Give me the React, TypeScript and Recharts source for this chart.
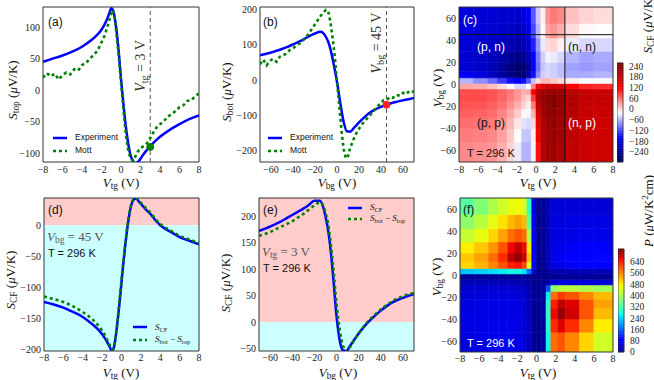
import React from "react";
import {
  ComposedChart,
  Line,
  XAxis,
  YAxis,
  ReferenceArea,
  ReferenceLine,
  ReferenceDot,
} from "recharts";

// (a) S_top against the top gate
const topVtg = [-8, -7, -6, -5, -4, -3, -2.5, -2, -1.5, -1.2, -1, -0.8, -0.5, -0.2, 0, 0.3, 0.6, 0.9, 1.2, 1.5, 1.8, 2.2, 2.6, 3, 3.5, 4, 5, 6, 7, 8];
const topExp = [45, 50, 55, 61, 69, 80, 87, 96, 110, 122, 130, 126, 100, 55, 18, -30, -70, -98, -112, -116, -113, -104, -96, -89, -81, -74, -63, -54, -46, -40];
const mottTopVtg = [-8, -7.6, -7.2, -6.8, -6.4, -6, -5.6, -5.2, -4.8, -4.4, -4, -3.6, -3.2, -2.8, -2.4, -2, -1.7, -1.4, -1.1, -0.9, -0.7, -0.5, -0.3, -0.1, 0.1, 0.3, 0.5, 0.7, 0.9, 1.1, 1.3, 1.6, 2, 2.4, 2.8, 3.2, 3.6, 4, 4.4, 4.8, 5.2, 5.6, 6, 6.4, 6.8, 7.2, 7.6, 8];
const mottTop = [20, 27, 22, 26, 17, 24, 28, 25, 33, 31, 40, 43, 50, 56, 63, 76, 86, 100, 116, 127, 120, 95, 65, 30, -5, -40, -70, -92, -104, -110, -112, -100, -92, -88, -82, -70, -60, -54, -49, -42, -38, -33, -27, -24, -17, -16, -10, -5];

// (b) S_bot against the back gate
const botVbg = [-70, -65, -60, -55, -50, -45, -40, -35, -30, -25, -20, -15, -10, -7, -5, -3, 0, 3, 6, 9, 12, 15, 20, 25, 30, 35, 40, 45, 50, 55, 60, 65, 70];
const botExp = [70, 74, 78, 83, 88, 94, 101, 108, 116, 125, 132, 137, 122, 100, 75, 45, -5, -65, -118, -145, -146, -137, -120, -105, -92, -83, -76, -70, -65, -61, -57, -54, -51];
const mottBotVbg = [-70, -67, -64, -61, -58, -55, -52, -49, -46, -43, -40, -37, -34, -31, -28, -25, -22, -19, -16, -13, -10, -8, -6, -4, -2, 0, 2, 4, 6, 8, 10, 12, 15, 18, 21, 24, 27, 30, 33, 36, 39, 42, 45, 48, 51, 54, 57, 60, 63, 66, 70];
const mottBot = [45, 58, 42, 55, 60, 52, 66, 70, 75, 85, 90, 98, 104, 112, 122, 135, 148, 163, 176, 190, 199, 195, 165, 120, 65, -5, -70, -140, -195, -222, -215, -192, -168, -148, -133, -120, -110, -100, -88, -78, -68, -58, -57, -48, -50, -42, -44, -36, -40, -30, -34];

// (d) S_CF at Vbg = 45 V
const cfVtg = [-8, -7, -6, -5, -4, -3, -2.5, -2, -1.5, -1.2, -1, -0.8, -0.5, -0.2, 0, 0.3, 0.6, 0.9, 1.2, 1.5, 1.8, 2.2, 2.6, 3, 3.5, 4, 5, 6, 7, 8];
const cfTgMeas = [-124, -128, -133, -140, -148, -160, -167, -176, -188, -197, -203, -198, -168, -125, -92, -45, -5, 25, 40, 43, 38, 31, 24, 18, 8, 0, -10, -19, -25, -31];
const cfTgDiff = [-115, -119, -124, -131, -140, -152, -160, -170, -184, -194, -201, -197, -166, -120, -88, -42, -2, 27, 41, 44, 40, 33, 26, 20, 10, 2, -8, -17, -23, -29];

// (e) S_CF at Vtg = 3 V
const cfVbg = [-70, -65, -60, -55, -50, -45, -40, -35, -30, -25, -20, -15, -10, -7, -5, -3, 0, 3, 6, 9, 12, 15, 20, 25, 30, 35, 40, 45, 50, 55, 60, 65, 70];
const cfBgMeas = [172, 176, 180, 185, 190, 196, 202, 208, 214, 221, 229, 229, 200, 165, 130, 85, 12, -35, -53, -54, -45, -36, -21, -8, 3, 13, 22, 30, 37, 42, 46, 50, 53];
const cfBgDiff = [163, 166, 170, 175, 180, 185, 190, 197, 204, 212, 220, 226, 207, 178, 145, 105, 35, -15, -45, -55, -47, -37, -21, -7, 5, 15, 24, 32, 39, 45, 49, 53, 55];

// maps (c) and (f): cell edges, rows listed from Vbg = -70 upwards
const tgEdges = [-8, -6.5, -5, -4, -3, -2.25, -1.5, -1, -0.5, 0, 0.5, 1, 1.5, 2.25, 3, 4.5, 6, 8];
const bgEdges = [-70, -52, -40, -30, -22, -15, -9, -4, 1, 6, 12, 20, 30, 42, 55, 70];
const cfMap = [
  [45, 42, 38, 25, 5, -30, -60, -62, -25, 110, 200, 220, 222, 210, 185, 175, 172],
  [52, 50, 45, 32, 12, -18, -50, -52, -10, 130, 205, 225, 228, 215, 188, 176, 173],
  [60, 58, 52, 40, 20, -5, -35, -40, 5, 150, 210, 230, 235, 220, 192, 178, 175],
  [68, 66, 60, 48, 30, 10, -15, -25, 25, 170, 220, 238, 242, 228, 198, 180, 177],
  [75, 74, 68, 58, 42, 25, 5, -10, 55, 190, 228, 245, 250, 235, 203, 183, 180],
  [80, 80, 75, 65, 52, 38, 15, 5, 90, 205, 232, 246, 250, 236, 205, 185, 180],
  [78, 78, 74, 65, 55, 40, 25, 30, 125, 200, 222, 232, 236, 222, 196, 180, 175],
  [30, 25, 15, 0, -20, -40, -40, -20, 50, 120, 160, 175, 175, 160, 120, 100, 95],
  [-60, -80, -100, -125, -150, -165, -150, -110, -50, 0, 20, 20, 10, 0, -10, -20, -20],
  [-165, -185, -205, -230, -255, -270, -260, -225, -150, -80, -45, -40, -45, -55, -65, -65, -60],
  [-190, -200, -215, -235, -255, -270, -265, -235, -170, -95, -50, -40, -45, -55, -70, -75, -70],
  [-195, -200, -210, -225, -240, -250, -240, -215, -160, -90, -45, -25, -30, -40, -60, -70, -65],
  [-190, -195, -200, -210, -220, -225, -215, -190, -140, -75, -30, 0, 5, -10, -30, -40, -40],
  [-185, -190, -195, -200, -205, -210, -200, -175, -120, -60, -15, 30, 40, 25, 0, -15, -20],
  [-185, -190, -190, -195, -195, -195, -185, -165, -110, -50, -10, 40, 55, 45, 15, 5, 0],
];
const pfMap = [
  [62, 66, 70, 70, 68, 64, 56, 44, 14, 12, 20, 270, 580, 600, 560, 500, 440],
  [62, 65, 68, 68, 66, 62, 55, 42, 14, 12, 20, 290, 630, 670, 630, 560, 480],
  [62, 64, 66, 66, 64, 62, 54, 40, 14, 12, 20, 300, 660, 715, 680, 600, 520],
  [60, 62, 64, 64, 62, 60, 52, 38, 14, 12, 20, 290, 640, 690, 670, 600, 540],
  [56, 58, 60, 60, 58, 56, 48, 34, 14, 12, 20, 260, 580, 620, 600, 560, 520],
  [50, 52, 54, 54, 52, 50, 44, 30, 14, 12, 16, 150, 380, 420, 420, 410, 400],
  [35, 35, 35, 34, 32, 30, 28, 20, 12, 10, 12, 25, 55, 62, 62, 58, 55],
  [15, 15, 15, 15, 14, 13, 12, 11, 10, 8, 8, 9, 10, 10, 12, 14, 14],
  [230, 240, 250, 260, 270, 270, 250, 170, 50, 10, 10, 22, 30, 32, 35, 38, 38],
  [500, 525, 560, 600, 640, 650, 610, 450, 90, 12, 12, 40, 62, 66, 75, 84, 86],
  [510, 540, 580, 630, 690, 715, 680, 510, 95, 12, 12, 42, 66, 72, 82, 92, 95],
  [480, 510, 550, 600, 660, 690, 660, 480, 90, 12, 12, 40, 64, 68, 75, 82, 85],
  [430, 460, 500, 540, 580, 600, 580, 410, 80, 12, 12, 38, 60, 64, 66, 68, 68],
  [380, 420, 460, 490, 520, 540, 520, 340, 70, 12, 12, 35, 58, 60, 62, 62, 62],
  [330, 370, 410, 440, 460, 470, 450, 300, 60, 12, 15, 35, 55, 55, 55, 55, 55],
];

const markTop = { x: 3, y: -90 };
const markBot = { x: 45, y: -70 };
const cutVtg = 3;
const cutVbg = 45;

const tgTicks = [-8, -6, -4, -2, 0, 2, 4, 6, 8];
const bgTicks = [-60, -40, -20, 0, 20, 40, 60];
const topTicks = [-100, -50, 0, 50, 100];
const botTicks = [-200, -100, 0, 100, 200];
const cfTgTicks = [-200, -150, -100, -50, 0];
const cfBgTicks = [-50, 0, 50, 100, 150, 200];
const cfBarTicks = [-240, -180, -120, -60, 0, 60, 120, 180, 240];
const pfBarTicks = [0, 80, 160, 240, 320, 400, 480, 560, 640];
const cfRange = [-296, 258];
const pfRange = [0, 730];

const BLUE = "#0000ff";
const GREEN = "#008000";
const SERIF = "'Liberation Serif', 'DejaVu Serif', serif";
const SANS = "'Liberation Sans', Arial, sans-serif";
const TICK = { fontSize: 10, fontFamily: SERIF, fill: "#222" };

const YW = 40;
const XH = 24;
const MT = 5;
const MR = 10;

type Box = { x: number; y: number; w: number; h: number };
const boxA: Box = { x: 43, y: 7, w: 156, h: 155 };
const boxB: Box = { x: 260, y: 7, w: 154, h: 155 };
const boxC: Box = { x: 459, y: 7, w: 154, h: 155 };
const boxD: Box = { x: 44, y: 198, w: 155, h: 153 };
const boxE: Box = { x: 259, y: 198, w: 155, h: 153 };
const boxF: Box = { x: 460, y: 198, w: 153, h: 154 };
const barC: Box = { x: 617, y: 63, w: 6, h: 99 };
const barF: Box = { x: 618, y: 249, w: 6, h: 103 };

const fmt = (v: number) => (v < 0 ? "\u2212" + Math.abs(v) : String(v));
const zip = (xs: number[], ys: number[]) => xs.map((x, i) => ({ x, y: ys[i] }));

// colour maps (matplotlib jet / seismic)
const interp = (pts: number[][], t: number) => {
  for (let i = 1; i < pts.length; i++) {
    if (t <= pts[i][0]) {
      const [t0, v0] = pts[i - 1];
      const [t1, v1] = pts[i];
      return v0 + ((v1 - v0) * (t - t0)) / (t1 - t0);
    }
  }
  return pts[pts.length - 1][1];
};
const rgb = (r: number, g: number, b: number) =>
  `rgb(${Math.round(r * 255)},${Math.round(g * 255)},${Math.round(b * 255)})`;
const clamp = (t: number) => Math.max(0, Math.min(1, t));
const jet = (t: number) => {
  t = clamp(t);
  return rgb(
    interp([[0, 0], [0.35, 0], [0.66, 1], [0.89, 1], [1, 0.5]], t),
    interp([[0, 0], [0.125, 0], [0.375, 1], [0.64, 1], [0.91, 0], [1, 0]], t),
    interp([[0, 0.5], [0.11, 1], [0.34, 1], [0.65, 0], [1, 0]], t)
  );
};
const seismic = (t: number) => {
  t = clamp(t);
  return rgb(
    interp([[0, 0], [0.25, 0], [0.5, 1], [0.75, 1], [1, 0.5]], t),
    interp([[0, 0], [0.25, 0], [0.5, 1], [0.75, 0], [1, 0]], t),
    interp([[0, 0.3], [0.25, 1], [0.5, 1], [0.75, 0], [1, 0]], t)
  );
};
const cfColour = (v: number) => seismic((v - cfRange[0]) / (cfRange[1] - cfRange[0]));
const pfColour = (v: number) => jet((v - pfRange[0]) / (pfRange[1] - pfRange[0]));

const cells = (map: number[][], colour: (v: number) => string, tag: string) =>
  map.flatMap((row, i) =>
    row.map((v, j) => (
      <ReferenceArea
        key={`${tag}-${i}-${j}`}
        x1={tgEdges[j]}
        x2={tgEdges[j + 1]}
        y1={bgEdges[i]}
        y2={bgEdges[i + 1]}
        fill={colour(v)}
        fillOpacity={1}
        stroke={colour(v)}
        strokeWidth={0.6}
        ifOverflow="hidden"
      />
    ))
  );

// colour bar: thin strips from the bottom of the range to the top
const strips = (range: number[], colour: (v: number) => string) =>
  Array.from({ length: 60 }, (_, k) => {
    const lo = range[0] + ((range[1] - range[0]) * k) / 60;
    const hi = range[0] + ((range[1] - range[0]) * (k + 1)) / 60;
    const c = colour((lo + hi) / 2);
    return (
      <ReferenceArea key={k} x1={0} x2={1} y1={lo} y2={hi} fill={c} fillOpacity={1} stroke={c} strokeWidth={0.5} ifOverflow="visible" />
    );
  });

function Plot({ box, xDomain, xTicks, yDomain, yTicks, children, tickGap = 4 }: any) {
  const width = box.w + YW + MR;
  const height = box.h + MT + XH;
  return (
    <div style={{ position: "absolute", left: box.x - YW, top: box.y - MT }}>
      <ComposedChart width={width} height={height} margin={{ top: MT, right: MR, left: 0, bottom: 0 }}>
        <XAxis
          type="number"
          dataKey="x"
          domain={xDomain}
          ticks={xTicks}
          allowDataOverflow
          interval={0}
          height={XH}
          axisLine={false}
          tickLine={false}
          tickSize={0}
          tickMargin={tickGap}
          tick={TICK}
          tickFormatter={fmt}
        />
        <YAxis
          type="number"
          domain={yDomain}
          ticks={yTicks}
          allowDataOverflow
          interval={0}
          width={YW}
          axisLine={false}
          tickLine={false}
          tickSize={0}
          tickMargin={3}
          tick={TICK}
          tickFormatter={fmt}
        />
        {children}
        <ReferenceArea
          x1={xDomain[0]}
          x2={xDomain[1]}
          y1={yDomain[0]}
          y2={yDomain[1]}
          fill="none"
          stroke="#333"
          strokeWidth={1}
        />
      </ComposedChart>
    </div>
  );
}

function ColourBar({ box, range, ticks, colour }: any) {
  const YR = 34;
  return (
    <div style={{ position: "absolute", left: box.x, top: box.y - 5 }}>
      <ComposedChart width={box.w + YR} height={box.h + 10} margin={{ top: 5, right: 0, left: 0, bottom: 5 }}>
        <XAxis
          type="number"
          dataKey="x"
          domain={[0, 1]}
          allowDataOverflow
          height={0}
          tick={false}
          axisLine={false}
          tickLine={false}
        />
        <YAxis
          type="number"
          orientation="right"
          domain={range}
          ticks={ticks}
          allowDataOverflow
          interval={0}
          width={YR}
          axisLine={false}
          tickLine={false}
          tickSize={0}
          tickMargin={6}
          tick={{ ...TICK, fontSize: 9.5 }}
          tickFormatter={fmt}
        />
        {strips(range, colour)}
        <ReferenceArea x1={0} x2={1} y1={range[0]} y2={range[1]} fill="none" stroke="#333" strokeWidth={0.8} />
      </ComposedChart>
    </div>
  );
}

const Sub = ({ children }: any) => (
  <sub style={{ fontSize: "0.72em", verticalAlign: "-0.3em", lineHeight: 0, fontStyle: "normal" }}>{children}</sub>
);

function Txt({ x, y, children, size = 13, color = "#111", family = SERIF, rot = false, mid = false }: any) {
  const transform = rot
    ? "translate(-50%,-50%) rotate(-90deg)"
    : mid
    ? "translate(-50%,-50%)"
    : "translateY(-50%)";
  return (
    <div
      style={{
        position: "absolute",
        left: x,
        top: y,
        transform,
        whiteSpace: "nowrap",
        fontSize: size,
        lineHeight: 1,
        color,
        fontFamily: family,
      }}
    >
      {children}
    </div>
  );
}

function Key({ x, y, items, gap = 13, size = 8.5, family = SANS }: any) {
  return (
    <div style={{ position: "absolute", left: x, top: y }}>
      {items.map((it: any, i: number) => (
        <div key={i} style={{ display: "flex", alignItems: "center", height: gap }}>
          <svg width={14} height={6}>
            <line x1={0} y1={3} x2={14} y2={3} stroke={it.color} strokeWidth={it.w} strokeDasharray={it.dash} />
          </svg>
          <span style={{ marginLeft: 8, fontSize: size, fontFamily: family, color: "#111", lineHeight: 1 }}>
            {it.label}
          </span>
        </div>
      ))}
    </div>
  );
}

const Vtg = () => (
  <span>
    <i>V</i>
    <Sub>tg</Sub>
  </span>
);
const Vbg = () => (
  <span>
    <i>V</i>
    <Sub>bg</Sub>
  </span>
);
const S = ({ s }: any) => (
  <span>
    <i>S</i>
    <Sub>{s}</Sub>
  </span>
);
const Unit = () => (
  <span>
    {" "}(<i>μ</i>V/K)
  </span>
);

const expLine = (xs: number[], ys: number[], k: string) => (
  <Line key={k} data={zip(xs, ys)} dataKey="y" type="monotone" stroke={BLUE} strokeWidth={2.5} dot={false} isAnimationActive={false} />
);
const mottLine = (xs: number[], ys: number[], k: string, type: any = "linear") => (
  <Line key={k} data={zip(xs, ys)} dataKey="y" type={type} stroke={GREEN} strokeWidth={2.6} strokeDasharray="3 3" dot={false} isAnimationActive={false} />
);

export default function App() {
  return (
    <div style={{ position: "absolute", left: 0, top: 0, width: 654, height: 380, background: "#fff", overflow: "hidden" }}>
      {/* (a) */}
      <Plot box={boxA} xDomain={[-8, 8]} xTicks={tgTicks} yDomain={[-114, 132]} yTicks={topTicks}>
        <ReferenceLine x={cutVtg} stroke="#555" strokeDasharray="4 3" strokeWidth={1} />
        {expLine(topVtg, topExp, "a1")}
        {mottLine(mottTopVtg, mottTop, "a2")}
        <ReferenceDot x={markTop.x} y={markTop.y} r={3.5} fill={GREEN} stroke={GREEN} />
      </Plot>
      <Txt x={48} y={22} size={12} family={SANS}>(a)</Txt>
      <Txt x={12} y={90} rot>
        <S s="top" />
        <Unit />
      </Txt>
      <Txt x={121} y={182} mid>
        <Vtg /> (V)
      </Txt>
      <Txt x={141} y={66} rot size={14} color="#333">
        <Vtg /> = 3 V
      </Txt>
      <Key
        x={53}
        y={131}
        items={[
          { color: BLUE, w: 2.5, label: "Experiment" },
          { color: GREEN, w: 2.6, dash: "3 3", label: "Mott" },
        ]}
      />

      {/* (b) */}
      <Plot box={boxB} xDomain={[-70, 70]} xTicks={bgTicks} yDomain={[-232, 207]} yTicks={botTicks}>
        <ReferenceLine x={cutVbg} stroke="#555" strokeDasharray="4 3" strokeWidth={1} />
        {expLine(botVbg, botExp, "b1")}
        {mottLine(mottBotVbg, mottBot, "b2")}
        <ReferenceDot x={markBot.x} y={markBot.y} r={3.5} fill="#ff2020" stroke="#ff2020" />
      </Plot>
      <Txt x={263} y={22} size={12} family={SANS}>(b)</Txt>
      <Txt x={226} y={92} rot>
        <S s="bot" />
        <Unit />
      </Txt>
      <Txt x={337} y={182} mid>
        <Vbg /> (V)
      </Txt>
      <Txt x={377} y={43} rot size={14} color="#333">
        <Vbg /> = 45 V
      </Txt>
      <Key
        x={268}
        y={131}
        items={[
          { color: BLUE, w: 2.5, label: "Experiment" },
          { color: GREEN, w: 2.6, dash: "3 3", label: "Mott" },
        ]}
      />

      {/* (c) */}
      <Plot box={boxC} xDomain={[-8, 8]} xTicks={tgTicks} yDomain={[-70, 70]} yTicks={bgTicks}>
        {cells(cfMap, cfColour, "c")}
        <ReferenceLine y={cutVbg} stroke="#111" strokeWidth={1} />
        <ReferenceLine x={cutVtg} stroke="#111" strokeWidth={1} />
      </Plot>
      <ColourBar box={barC} range={cfRange} ticks={cfBarTicks} colour={cfColour} />
      <Txt x={463} y={20} size={12} family={SANS} color="#fff">(c)</Txt>
      <Txt x={437} y={88} rot>
        <Vbg /> (V)
      </Txt>
      <Txt x={538} y={182} mid>
        <Vtg /> (V)
      </Txt>
      <Txt x={477} y={47} size={12} family={SANS} color="#fff">(p, n)</Txt>
      <Txt x={568} y={47} size={12} family={SANS}>(n, n)</Txt>
      <Txt x={477} y={123} size={12} family={SANS}>(p, p)</Txt>
      <Txt x={568} y={123} size={12} family={SANS} color="#fff">(n, p)</Txt>
      <Txt x={467} y={153} size={11} family={SANS}>T = 296 K</Txt>
      <Txt x={647} y={24} rot>
        <S s="CF" />
        <Unit />
      </Txt>

      {/* (d) */}
      <Plot box={boxD} xDomain={[-8, 8]} xTicks={tgTicks} yDomain={[-203, 44]} yTicks={cfTgTicks} tickGap={3}>
        <ReferenceArea y1={0} y2={44} x1={-8} x2={8} fill="#ffcccc" fillOpacity={1} stroke="none" />
        <ReferenceArea y1={-203} y2={0} x1={-8} x2={8} fill="#ccffff" fillOpacity={1} stroke="none" />
        {expLine(cfVtg, cfTgMeas, "d1")}
        {mottLine(cfVtg, cfTgDiff, "d2", "monotone")}
      </Plot>
      <Txt x={48} y={210} size={12} family={SANS}>(d)</Txt>
      <Txt x={10} y={280} rot>
        <S s="CF" />
        <Unit />
      </Txt>
      <Txt x={121} y={372} mid>
        <Vtg /> (V)
      </Txt>
      <Txt x={47} y={236} color="#555">
        <Vbg /> = 45 V
      </Txt>
      <Txt x={48} y={253} size={11} family={SANS}>T = 296 K</Txt>
      <Key
        x={133}
        y={321}
        gap={12.6}
        size={9}
        family={SERIF}
        items={[
          { color: BLUE, w: 2.5, label: <S s="CF" /> },
          { color: GREEN, w: 2.6, dash: "3 3", label: <span><S s="bot" /> − <S s="top" /></span> },
        ]}
      />

      {/* (e) */}
      <Plot box={boxE} xDomain={[-70, 70]} xTicks={bgTicks} yDomain={[-54, 234]} yTicks={cfBgTicks} tickGap={3}>
        <ReferenceArea y1={0} y2={234} x1={-70} x2={70} fill="#ffcccc" fillOpacity={1} stroke="none" />
        <ReferenceArea y1={-54} y2={0} x1={-70} x2={70} fill="#ccffff" fillOpacity={1} stroke="none" />
        {expLine(cfVbg, cfBgMeas, "e1")}
        {mottLine(cfVbg, cfBgDiff, "e2", "monotone")}
      </Plot>
      <Txt x={263} y={210} size={12} family={SANS}>(e)</Txt>
      <Txt x={225} y={283} rot>
        <S s="CF" />
        <Unit />
      </Txt>
      <Txt x={338} y={372} mid>
        <Vbg /> (V)
      </Txt>
      <Txt x={262} y={251} color="#555">
        <Vtg /> = 3 V
      </Txt>
      <Txt x={263} y={268} size={11} family={SANS}>T = 296 K</Txt>
      <Key
        x={348}
        y={202}
        gap={11}
        size={9}
        family={SERIF}
        items={[
          { color: BLUE, w: 2.5, label: <S s="CF" /> },
          { color: GREEN, w: 2.6, dash: "3 3", label: <span><S s="bot" /> − <S s="top" /></span> },
        ]}
      />

      {/* (f) */}
      <Plot box={boxF} xDomain={[-8, 8]} xTicks={tgTicks} yDomain={[-70, 70]} yTicks={bgTicks} tickGap={3}>
        {cells(pfMap, pfColour, "f")}
      </Plot>
      <ColourBar box={barF} range={pfRange} ticks={pfBarTicks} colour={pfColour} />
      <Txt x={463} y={210} size={12} family={SANS}>(f)</Txt>
      <Txt x={436} y={277} rot>
        <Vbg /> (V)
      </Txt>
      <Txt x={538} y={372} mid>
        <Vtg /> (V)
      </Txt>
      <Txt x={467} y={343} size={11} family={SANS} color="#fff">T = 296 K</Txt>
      <Txt x={648} y={211} rot>
        <i>P</i> (<i>μ</i>W/K<sup style={{ fontSize: "0.7em" }}>2</sup>cm)
      </Txt>
    </div>
  );
}
